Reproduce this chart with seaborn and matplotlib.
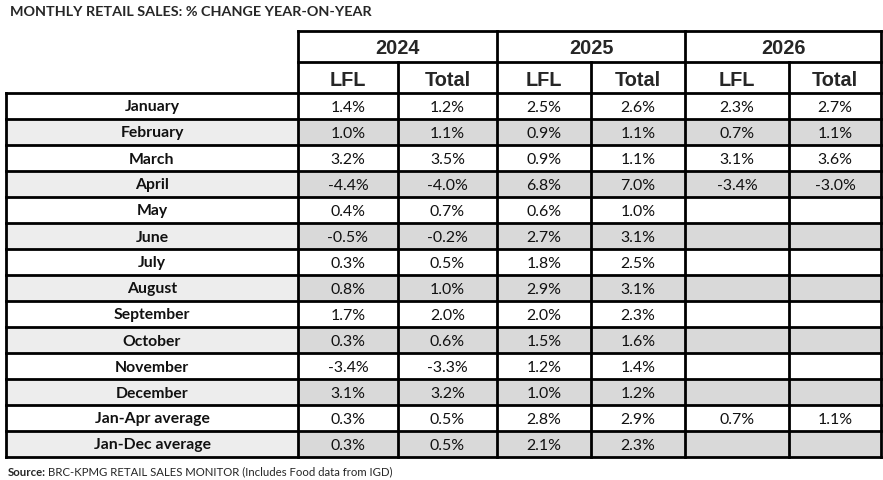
import matplotlib
matplotlib.use("Agg")
import matplotlib.pyplot as plt
import seaborn as sns
from matplotlib.patches import Rectangle

sns.set_theme(style="white")
plt.rcParams['font.family'] = ['Lato', 'DejaVu Sans']

# data
rows = ['January', 'February', 'March', 'April', 'May', 'June', 'July', 'August',
        'September', 'October', 'November', 'December', 'Jan-Apr average', 'Jan-Dec average']
years = ['2024', '2025', '2026']
sub_cols = ['LFL', 'Total']
lfl_2024 = ['1.4%', '1.0%', '3.2%', '-4.4%', '0.4%', '-0.5%', '0.3%', '0.8%', '1.7%', '0.3%', '-3.4%', '3.1%', '0.3%', '0.3%']
tot_2024 = ['1.2%', '1.1%', '3.5%', '-4.0%', '0.7%', '-0.2%', '0.5%', '1.0%', '2.0%', '0.6%', '-3.3%', '3.2%', '0.5%', '0.5%']
lfl_2025 = ['2.5%', '0.9%', '0.9%', '6.8%', '0.6%', '2.7%', '1.8%', '2.9%', '2.0%', '1.5%', '1.2%', '1.0%', '2.8%', '2.1%']
tot_2025 = ['2.6%', '1.1%', '1.1%', '7.0%', '1.0%', '3.1%', '2.5%', '3.1%', '2.3%', '1.6%', '1.4%', '1.2%', '2.9%', '2.3%']
lfl_2026 = ['2.3%', '0.7%', '3.1%', '-3.4%', '', '', '', '', '', '', '', '', '0.7%', '']
tot_2026 = ['2.7%', '1.1%', '3.6%', '-3.0%', '', '', '', '', '', '', '', '', '1.1%', '']
columns = [lfl_2024, tot_2024, lfl_2025, tot_2025, lfl_2026, tot_2026]

title = 'MONTHLY RETAIL SALES: % CHANGE YEAR-ON-YEAR'
source = 'BRC-KPMG RETAIL SALES MONITOR (Includes Food data from IGD)'

# layout (pixels)
x_edges = [6, 298, 398, 497, 591, 685, 789, 881]
y_top, y_year, y_sub = 31, 62, 93
row_h = 26
lw = 2.0

fig = plt.figure(figsize=(8.83, 4.8), dpi=100)
ax = fig.add_axes([0, 0, 1, 1])
ax.set_xlim(0, 883)
ax.set_ylim(480, 0)
ax.axis('off')

# shading + cell text
for i, r in enumerate(rows):
    y0 = y_sub + i * row_h
    if i % 2 == 1:
        ax.add_patch(Rectangle((x_edges[0], y0), x_edges[1] - x_edges[0], row_h,
                               facecolor='#ededed', edgecolor='none'))
        ax.add_patch(Rectangle((x_edges[1], y0), x_edges[-1] - x_edges[1], row_h,
                               facecolor='#d9d9d9', edgecolor='none'))
    yc = y0 + row_h / 2 + 1.5
    ax.text((x_edges[0] + x_edges[1]) / 2, yc, r, ha='center', va='center',
            fontsize=11.3, fontweight='bold', color='#111111')
    for j, col in enumerate(columns):
        ax.text((x_edges[j + 1] + x_edges[j + 2]) / 2, yc, col[i], ha='center', va='center',
                fontsize=11.4, color='#111111')

y_bot = y_sub + len(rows) * row_h

# header text
hfont = ['Liberation Sans', 'DejaVu Sans']
for k, yr in enumerate(years):
    xa, xb = x_edges[1 + 2 * k], x_edges[3 + 2 * k]
    ax.text((xa + xb) / 2, (y_top + y_year) / 2 + 2, yr, ha='center', va='center',
            fontsize=14.3, fontweight='bold', family=hfont)
    for s, sc in enumerate(sub_cols):
        xs0, xs1 = x_edges[1 + 2 * k + s], x_edges[2 + 2 * k + s]
        ax.text((xs0 + xs1) / 2, (y_year + y_sub) / 2 + 3, sc, ha='center', va='center',
                fontsize=14.3, fontweight='bold', family=hfont)

# grid lines
kw = dict(color='black', lw=lw, solid_capstyle='projecting')
ax.plot([x_edges[1], x_edges[-1]], [y_top, y_top], **kw)
ax.plot([x_edges[1], x_edges[-1]], [y_year, y_year], **kw)
for i in range(len(rows) + 1):
    y = y_sub + i * row_h
    ax.plot([x_edges[0], x_edges[-1]], [y, y], **kw)
ax.plot([x_edges[0], x_edges[0]], [y_sub, y_bot], **kw)
for k in range(4):
    x = x_edges[1 + 2 * k]
    ax.plot([x, x], [y_top, y_bot], **kw)
for k in range(3):
    x = x_edges[2 + 2 * k]
    ax.plot([x, x], [y_year, y_bot], **kw)

ax.text(10, 12.5, title, ha='left', va='center', fontsize=10.4, fontweight='bold')
ax.text(8, 472, 'Source:', ha='left', va='center', fontsize=8.2, fontweight='bold')
ax.text(48, 472, source, ha='left', va='center', fontsize=8.2)

fig.savefig('out.png', dpi=100)
